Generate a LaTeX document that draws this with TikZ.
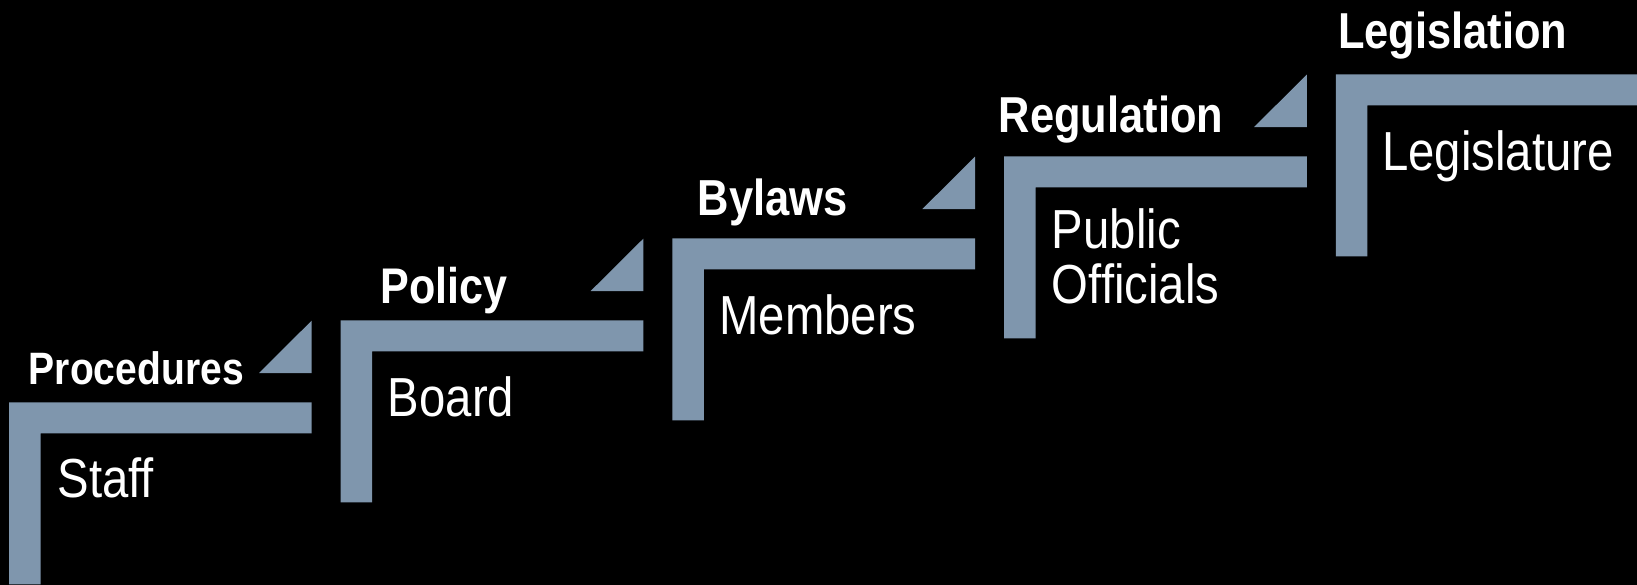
\documentclass[tikz,border=0pt]{standalone}
\usepackage{fontspec}
\newfontfamily\stairfont[FakeStretch=0.86]{Liberation Sans}
\definecolor{stairblue}{RGB}{127,150,173}
\tikzset{
  stair/.style={fill=stairblue},
  level/.style={anchor=base west,inner sep=0pt,text=white,
    font=\stairfont\bfseries\fontsize{#1}{#1}\selectfont},
  actor/.style={anchor=base west,inner sep=0pt,text=white,align=left,
    font=\stairfont\fontsize{55}{55}\selectfont},
}
\begin{document}
\begin{tikzpicture}[x=1pt,y=-1pt]
	\useasboundingbox (0,0) rectangle (1637,584);
	\fill[black] (-6,-6) rectangle (1643,590);
	% the five steps
	\foreach \i in {0,...,4}{
		\pgfmathsetmacro{\L}{9+331.7*\i}
		\pgfmathsetmacro{\T}{402.3-82*\i}
		\fill[stair] (\L,\T) -- ++(302.7,0) -- ++(0,31) -- ++(-271.2,0) -- ++(0,151) -- ++(-31.5,0) -- cycle;
	}
	% small wedges below the next step
	\foreach \i in {0,...,3}{
		\pgfmathsetmacro{\R}{311.7+331.7*\i}
		\pgfmathsetmacro{\T}{402.3-82*\i}
		\fill[stair] (\R,\T-81.7) -- (\R,\T-29.3) -- (\R-52.7,\T-29.3) -- cycle;
	}
	\node[level=45.4] (procedures) at (28.7,384.3) {Procedures};
	\node[level=50.1] (policy) at (380.5,303.3) {Policy};
	\node[level=50.6] (bylaws) at (697.4,215) {Bylaws};
	\node[level=50.5] (regulation) at (998.7,132.7) {Regulation};
	\node[level=50.5] (legislation) at (1338,48.3) {Legislation};
	\node[actor] (staff) at (57.5,497.7) {Staff};
	\node[actor] (board) at (387.7,416) {Board};
	\node[actor] (members) at (719.3,334.3) {Members};
	\node[actor] (officials) at (1051.7,303.3) {Public\\Officials};
	\node[actor] (legislature) at (1382,170.7) {Legislature};
\end{tikzpicture}
\end{document}
